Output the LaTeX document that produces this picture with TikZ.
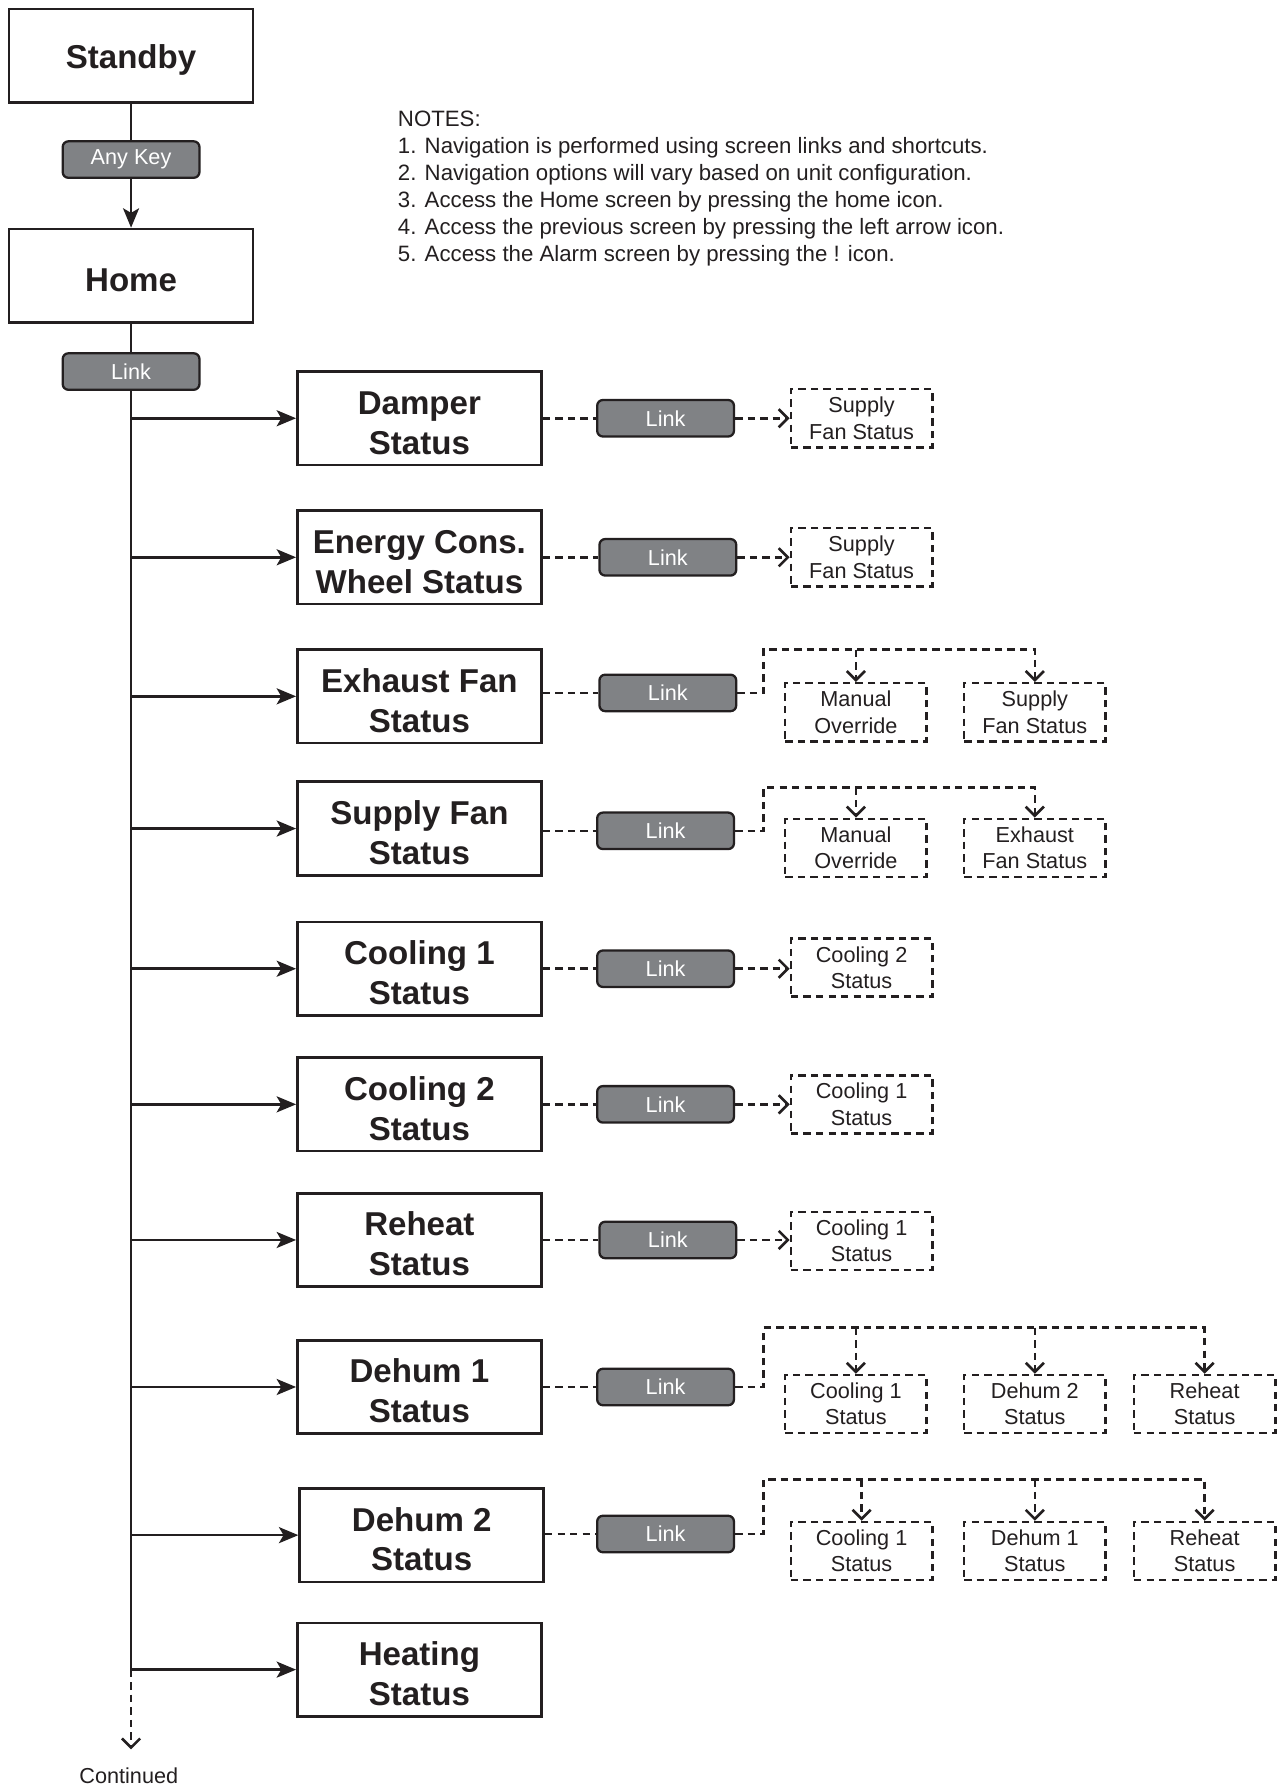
\documentclass[tikz,border=0pt]{standalone}
\usepackage{fontspec}
\setmainfont{Liberation Sans}
\usetikzlibrary{arrows.meta}
\definecolor{ink}{HTML}{231F20}
\definecolor{pillgray}{HTML}{808285}
\newcommand\toplift{\rule{0pt}{28pt}}
\begin{document}
\begin{tikzpicture}[x=1pt,y=-1pt,
  mainbox/.style={draw=ink, line width=2.4pt, minimum width=214pt, minimum height=82pt, inner sep=0pt, align=center, font=\fontsize{29}{35}\selectfont\bfseries, text=ink},
  pill/.style={draw=ink, line width=2pt, fill=pillgray, rounded corners=5pt, minimum width=120pt, minimum height=32pt, inner sep=0pt, text=white, font=\fontsize{19}{23}\selectfont},
  tgt/.style={draw=ink, line width=2.2pt, dash pattern=on 6.5pt off 4.5pt, minimum width=124pt, minimum height=51pt, inner sep=0pt, align=center, font=\fontsize{19}{23}\selectfont, text=ink},
  conn/.style={draw=ink, line width=2.3pt},
  dconn/.style={conn, dash pattern=on 6.5pt off 4.5pt},
  sarrow/.style={-{Stealth[length=17pt,width=14pt,inset=4pt]}},
  oarrow/.style={-{Straight Barb[length=8pt,width=16pt]}}
]
\fill[white] (0,0) rectangle (1124,1568);
\useasboundingbox (0,0) rectangle (1124,1568);

% top column
\node[mainbox] (standby) at (115,49) {\toplift Standby};
\node[pill] (anykey) at (115,140) {Any Key};
\node[mainbox] (home) at (115,242) {\toplift Home};
\node[pill] (link0) at (115,326) {Link};
\coordinate (trunkend) at (115,1465);
\coordinate (contend) at (115,1535);
\node[font=\fontsize{19}{23}\selectfont, text=ink, inner sep=0pt] (cont) at (113,1558) {Continued};

\node[anchor=north west, inner sep=0pt, align=left, text=ink, font=\fontsize{19.5}{23.7}\selectfont] (notes) at (349,97)
 {NOTES:\\
  1. Navigation is performed using screen links and shortcuts.\\
  2. Navigation options will vary based on unit configuration.\\
  3. Access the Home screen by pressing the home icon.\\
  4. Access the previous screen by pressing the left arrow icon.\\
  5. Access the Alarm screen by pressing the ! icon.};

% main status boxes
\node[mainbox] (dam) at (368,367) {\toplift Damper\\Status};
\node[mainbox] (ene) at (368,489) {\toplift Energy Cons.\\Wheel Status};
\node[mainbox] (exh) at (368,611) {\toplift Exhaust Fan\\Status};
\node[mainbox] (sup) at (368,727) {\toplift Supply Fan\\Status};
\node[mainbox] (co1) at (368,850) {\toplift Cooling 1\\Status};
\node[mainbox] (co2) at (368,969) {\toplift Cooling 2\\Status};
\node[mainbox] (reh) at (368,1088) {\toplift Reheat\\Status};
\node[mainbox] (de1) at (368,1217) {\toplift Dehum 1\\Status};
\node[mainbox] (de2) at (370,1347) {\toplift Dehum 2\\Status};
\node[mainbox] (hea) at (368,1465) {\toplift Heating\\Status};

% link pills
\node[pill] (damP) at (584,367) {Link};
\node[pill] (eneP) at (586,489) {Link};
\node[pill] (exhP) at (586,608) {Link};
\node[pill] (supP) at (584,729) {Link};
\node[pill] (co1P) at (584,850) {Link};
\node[pill] (co2P) at (584,969) {Link};
\node[pill] (rehP) at (586,1088) {Link};
\node[pill] (de1P) at (584,1217) {Link};
\node[pill] (de2P) at (584,1346) {Link};

% target boxes
\node[tgt] (damT) at (756,367) {Supply\\Fan Status};
\node[tgt] (eneT) at (756,489) {Supply\\Fan Status};
\node[tgt] (exhA) at (751,625) {Manual\\Override};
\node[tgt] (exhB) at (908,625) {Supply\\Fan Status};
\node[tgt] (supA) at (751,744) {Manual\\Override};
\node[tgt] (supB) at (908,744) {Exhaust\\Fan Status};
\node[tgt] (co1T) at (756,849) {Cooling 2\\Status};
\node[tgt] (co2T) at (756,969) {Cooling 1\\Status};
\node[tgt] (rehT) at (756,1089) {Cooling 1\\Status};
\node[tgt] (de1A) at (751,1232) {Cooling 1\\Status};
\node[tgt] (de1B) at (908,1232) {Dehum 2\\Status};
\node[tgt] (de1C) at (1057,1232) {Reheat\\Status};
\node[tgt] (de2A) at (756,1361) {Cooling 1\\Status};
\node[tgt] (de2B) at (908,1361) {Dehum 1\\Status};
\node[tgt] (de2C) at (1057,1361) {Reheat\\Status};

\coordinate (exhK) at (670,570);
\coordinate (supK) at (670,691);
\coordinate (de1K) at (670,1165);
\coordinate (de2K) at (670,1298);

% trunk
\draw[conn] (standby) -- (anykey);
\draw[conn,sarrow] (anykey) -- (home);
\draw[conn] (home) -- (link0);
\draw[conn] (link0.south) -- (trunkend);
\draw[dconn,oarrow] (trunkend) -- (contend);
\foreach \b in {dam,ene,exh,sup,co1,co2,reh,de1,de2,hea}
  \draw[conn,sarrow] (link0.south |- \b.west) -- (\b.west);

% box to pill
\foreach \b in {dam,ene,exh,sup,co1,co2,reh,de1,de2}
  \draw[dconn] (\b.east |- \b P.west) -- (\b P.west);

% single targets
\foreach \b in {dam,ene,co1,co2,reh}
  \draw[dconn,oarrow] (\b P.east) -- (\b T.west |- \b P.east);

% multiple targets
\draw[dconn,oarrow] (exhP.east) -| (exhK) -| (exhB.north);
\draw[dconn,oarrow] (exhA.north |- exhK) -- (exhA.north);
\draw[dconn,oarrow] (supP.east) -| (supK) -| (supB.north);
\draw[dconn,oarrow] (supA.north |- supK) -- (supA.north);
\draw[dconn,oarrow] (de1P.east) -| (de1K) -| (de1C.north);
\draw[dconn,oarrow] (de1A.north |- de1K) -- (de1A.north);
\draw[dconn,oarrow] (de1B.north |- de1K) -- (de1B.north);
\draw[dconn,oarrow] (de2P.east) -| (de2K) -| (de2C.north);
\draw[dconn,oarrow] (de2A.north |- de2K) -- (de2A.north);
\draw[dconn,oarrow] (de2B.north |- de2K) -- (de2B.north);
\end{tikzpicture}
\end{document}
